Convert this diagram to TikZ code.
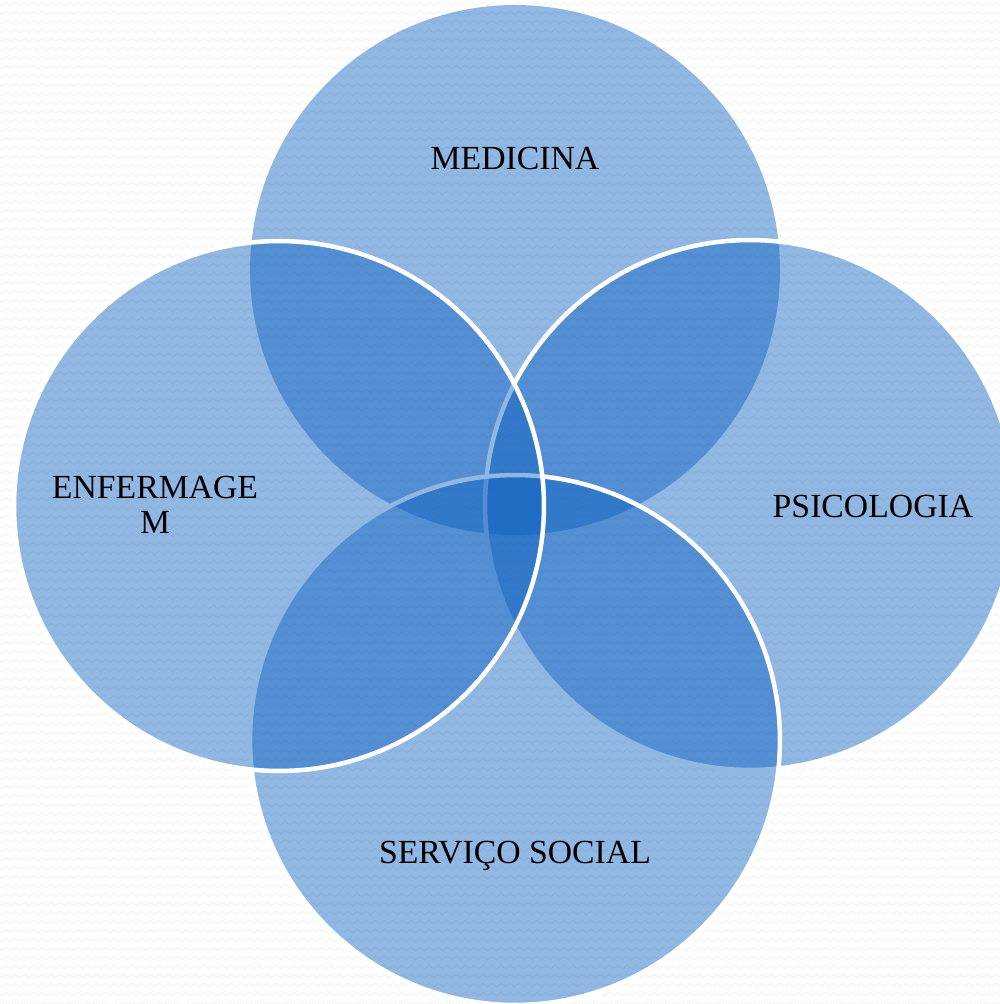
\documentclass[tikz,border=0pt]{standalone}
\usepackage{fontspec}
\setmainfont{Liberation Serif}
\usetikzlibrary{decorations.pathmorphing}
\definecolor{vennblue}{RGB}{10,95,192}
\definecolor{paper}{RGB}{244,244,244}
\tikzset{
  set/.style={circle, minimum size=10.6cm, inner sep=0pt,
    fill=vennblue, fill opacity=0.45},
  outlined/.style={draw=white, draw opacity=1, line width=4.5*0.02cm},
  setlabel/.style={text=black, text opacity=1, anchor=base,
    font=\fontsize{19.2}{20}\selectfont, inner sep=0pt},
  texture/.style={draw=paper, line width=0.6pt,
    decorate, decoration={zigzag, segment length=0.18cm, amplitude=0.035cm}}
}
\begin{document}
\begin{tikzpicture}[x=0.02cm, y=-0.02cm]
  \useasboundingbox (0,0) rectangle (1000,1004);
  \clip (0,0) rectangle (1000,1004);
  % faint zig-zag paper texture
  \foreach \r in {0,...,112} {
    \draw[texture] (-5,{4+9*\r}) -- (1005,{4+9*\r});
  }
  % the four overlapping sets, drawn clockwise from the top
  \node[set] (med) at (515,270) {};
  \node[set, outlined] (psi) at (750,505) {};
  \node[set, outlined] (ser) at (515,740) {};
  \node[set, outlined] (enf) at (279,506) {};
  % set names
  \node[setlabel] (tmed) at (515,169) {MEDICINA};
  \node[setlabel] (tpsi) at (873,517) {PSICOLOGIA};
  \node[setlabel] (tser) at (515,863) {SERVIÇO SOCIAL};
  \node[setlabel, align=center, font=\fontsize{19.2}{19.9}\selectfont] (tenf) at (155,533) {ENFERMAGE\\M};
\end{tikzpicture}
\end{document}
